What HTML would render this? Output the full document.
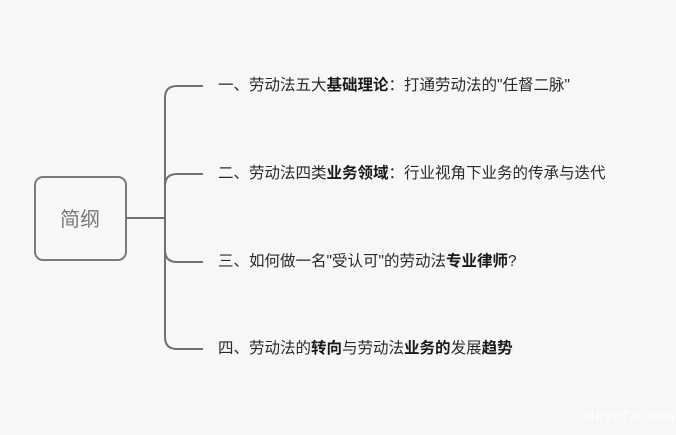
<!DOCTYPE html>
<html><head><meta charset="utf-8"><style>
html,body{margin:0;padding:0;background:#f7f7f7;}
body{width:676px;height:435px;position:relative;overflow:hidden;font-family:"Liberation Sans","Noto Sans CJK SC",sans-serif;color:#2a2a2a;}
.t{position:absolute;left:218px;font-size:15.5px;line-height:20px;white-space:nowrap;}
b{font-weight:bold;color:#1a1a1a;}
</style></head><body>
<svg width="676" height="435" style="position:absolute;left:0;top:0">
<rect x="35" y="177" width="91" height="83" rx="8" fill="#f7f7f7" stroke="#7a7a7a" stroke-width="2"/>
<g fill="none" stroke="#707070" stroke-width="2">
<path d="M126 218 H165"/>
<path d="M203 86 H177 Q165 86 165 98 V337 Q165 349 177 349 H203"/>
<path d="M203 174 H177 Q165 174 165 186"/>
<path d="M203 262 H177 Q165 262 165 250"/>
</g>
<text x="80" y="226" font-size="20" fill="#777" text-anchor="middle" font-family="Liberation Sans,Noto Sans CJK SC,sans-serif">简纲</text>
<text x="586" y="420" font-size="14" fill="#fff" font-family="Liberation Mono,monospace" textLength="88">dayefx.com</text>
</svg>
<div class="t" style="top:76px">一、劳动法五大<b>基础理论</b>：打通劳动法的"任督二脉"</div>
<div class="t" style="top:164px">二、劳动法四类<b>业务领域</b>：行业视角下业务的传承与迭代</div>
<div class="t" style="top:252px">三、如何做一名"受认可"的劳动法<b>专业律师</b>?</div>
<div class="t" style="top:339px">四、劳动法的<b>转向</b>与劳动法<b>业务的</b>发展<b>趋势</b></div>
</body></html>
